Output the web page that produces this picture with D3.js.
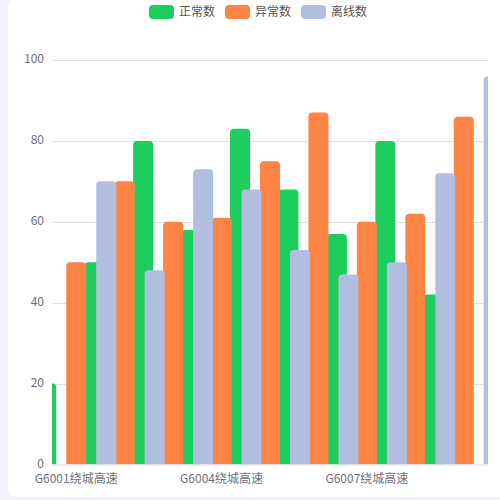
<!DOCTYPE html>
<html><head><meta charset="utf-8">
<script src="https://cdn.jsdelivr.net/npm/d3@7/dist/d3.min.js"></script>
<style>html,body{margin:0;padding:0;background:#f3f4f9;overflow:hidden}svg{display:block}</style>
</head><body>
<svg id="c" width="500" height="500"></svg>
<script>
const categories = ["G6001绕城高速","G6002绕城高速","G6003绕城高速","G6004绕城高速","G6005绕城高速","G6006绕城高速","G6007绕城高速","G6008绕城高速","G6009绕城高速"];
const seriesNames = ["正常数","异常数","离线数"];
const normalValues = [20, 50, 80, 58, 83, 68, 57, 80, 42];
const abnormalValues = [50, 70, 60, 61, 75, 87, 60, 62, 86];
const offlineValues = [70, 48, 73, 68, 53, 47, 50, 72, 96];
const yTicks = [0, 20, 40, 60, 80, 100];
const colors = ["#1fcd5f", "#fe8446", "#b1bedf"];

const series = [normalValues, abnormalValues, offlineValues];
const font = "'Noto Sans CJK SC','Noto Sans',sans-serif";
const svg = d3.select("#c");
// card
svg.append("rect").attr("x",8).attr("y",0).attr("width",510).attr("height",497).attr("rx",8).attr("fill","#fff");

const L=52, R=488, T=60, B=464.5;
const x = d3.scaleBand().domain(categories).range([L,R]).padding(0);
const y = d3.scaleLinear().domain([0,100]).range([B,T]);

// grid
svg.append("g").selectAll("line").data(yTicks.filter(d=>d>0)).join("line")
  .attr("x1",L).attr("x2",R).attr("y1",d=>Math.round(y(d))+0.5).attr("y2",d=>Math.round(y(d))+0.5)
  .attr("stroke","#e0e0e0").attr("stroke-width",1);

// y labels
svg.append("g").selectAll("text").data(yTicks).join("text")
  .attr("x",44).attr("y",d=>y(d)-1).attr("dy","0.35em").attr("text-anchor","end")
  .attr("font-family",font).attr("font-size",12).attr("fill","#6e7079").text(d=>d);

svg.append("clipPath").attr("id","clip").append("rect").attr("x",L).attr("y",0).attr("width",R-L).attr("height",B);

const bw = 20, off = 30, r = 4;
function barPath(x0, y0, w, h){
  const rr = Math.min(r, h, w/2);
  return `M${x0},${y0+h}V${y0+rr}Q${x0},${y0} ${x0+rr},${y0}H${x0+w-rr}Q${x0+w},${y0} ${x0+w},${y0+rr}V${y0+h}Z`;
}
const gBars = svg.append("g").attr("clip-path","url(#clip)");
series.forEach((vals, si)=>{
  gBars.append("g").selectAll("path").data(vals).join("path")
    .attr("d",(v,i)=>{
      const cx = x(categories[i]) + x.bandwidth()/2 + (si-1)*off;
      return barPath(cx-bw/2, y(v), bw, B - y(v));
    })
    .attr("fill",colors[si]);
});

// x axis line
svg.append("line").attr("x1",L).attr("x2",R).attr("y1",B+0.5).attr("y2",B+0.5).attr("stroke","#dcdcdc").attr("stroke-width",1);

// x labels (interval 2)
svg.append("g").selectAll("text").data(categories.filter((d,i)=>i%3===0)).join("text")
  .attr("x",d=>x(d)+x.bandwidth()/2).attr("y",478.5).attr("dy","0.35em").attr("text-anchor","middle")
  .attr("font-family",font).attr("font-size",12).attr("fill","#6e7079").text(d=>d);

// legend
const lg = svg.append("g");
let lx = 149;
seriesNames.forEach((n,i)=>{
  lg.append("rect").attr("x",lx).attr("y",5).attr("width",25).attr("height",14).attr("rx",4).attr("fill",colors[i]);
  const t = lg.append("text").attr("x",lx+30).attr("y",12).attr("dy","0.35em")
    .attr("font-family",font).attr("font-size",12).attr("fill","#555").text(n);
  lx += 30 + t.node().getComputedTextLength() + 10;
});
</script>
</body></html>
